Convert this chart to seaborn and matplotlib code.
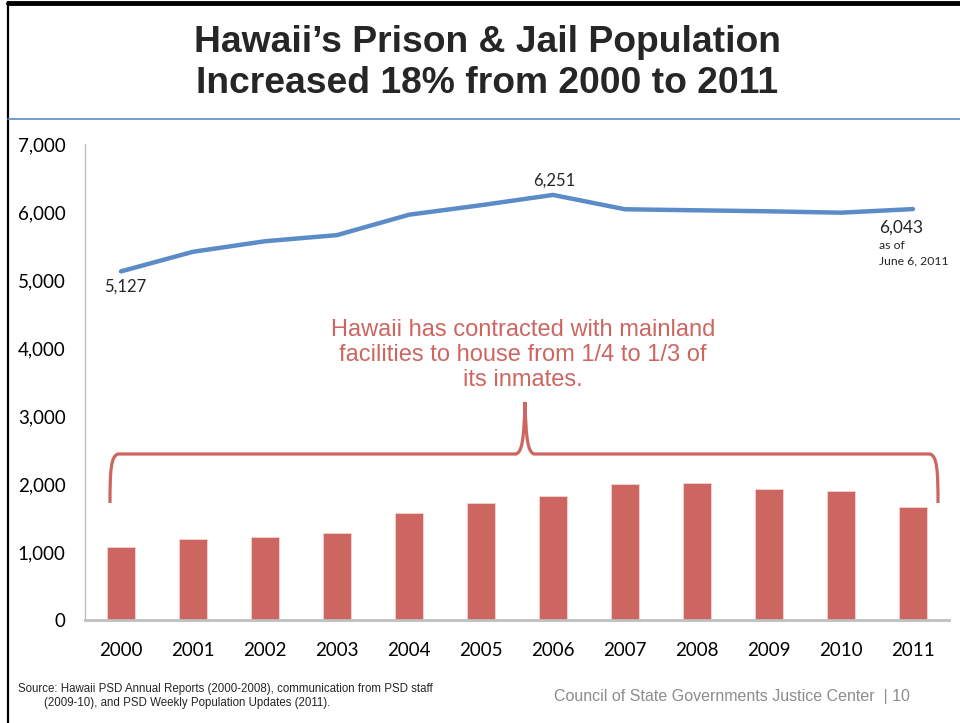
import matplotlib
matplotlib.use('Agg')
import matplotlib.pyplot as plt
from matplotlib.path import Path
from matplotlib.patches import PathPatch
import matplotlib.font_manager as fm
import seaborn as sns
import pandas as pd

# Datos
anios = ['2000', '2001', '2002', '2003', '2004', '2005',
         '2006', '2007', '2008', '2009', '2010', '2011']
poblacion_total = [5127, 5415, 5570, 5660, 5960, 6100,
                   6251, 6040, 6025, 6010, 5990, 6043]
fuera_del_estado = [1070, 1190, 1225, 1275, 1570, 1715,
                    1825, 1995, 2010, 1920, 1890, 1660]
yticks = [0, 1000, 2000, 3000, 4000, 5000, 6000, 7000]

titulo = 'Hawaii\u2019s Prison & Jail Population\nIncreased 18% from 2000 to 2011'
nota = 'Hawaii has contracted with mainland\nfacilities to house from 1/4 to 1/3 of\nits inmates.'
fuente = ('Source: Hawaii PSD Annual Reports (2000-2008), communication from PSD staff\n'
          '        (2009-10), and PSD Weekly Population Updates (2011).')
pie = 'Council of State Governments Justice Center  | 10'

sns.set_style('white')
instaladas = {f.name for f in fm.fontManager.ttflist}
narrow = 'Liberation Sans Narrow' if 'Liberation Sans Narrow' in instaladas else 'Liberation Sans'
plt.rcParams['font.family'] = ['Lato', 'DejaVu Sans']

db = pd.DataFrame({'Año': anios, 'Total': poblacion_total, 'Fuera': fuera_del_estado})

ROJO = '#CD6661'
AZUL = '#5B8CC8'

fig = plt.figure(figsize=(9.6, 7.23), dpi=100)
ax = fig.add_axes([85 / 960, 103 / 723, 864 / 960, 476 / 723])

sns.barplot(data=db, x='Año', y='Fuera', color=ROJO, width=0.4, saturation=1,
            edgecolor='#F2D4D2', linewidth=0.6, ax=ax)
sns.lineplot(data=db, x='Año', y='Total', color=AZUL, linewidth=3.2, ax=ax)

ax.set_xlim(-0.5, len(anios) - 0.5)
ax.set_ylim(0, 7000)
ax.set_yticks(yticks)
ax.set_yticklabels([f'{v:,}' for v in yticks])
ax.set_xlabel('')
ax.set_ylabel('')
ax.tick_params(axis='both', length=0, labelsize=13.5, colors='black')
ax.tick_params(axis='y', pad=14)
ax.tick_params(axis='x', pad=16)
for s in ['top', 'right']:
    ax.spines[s].set_visible(False)
ax.spines['left'].set_color('#BFBFBF')
ax.spines['left'].set_linewidth(1)
ax.spines['bottom'].set_color('#BFBFBF')
ax.spines['bottom'].set_linewidth(2)

# Etiquetas de datos
ax.annotate(f'{poblacion_total[0]:,}', xy=(0, poblacion_total[0]), xytext=(4, -15),
            textcoords='offset pixels', ha='center', va='center', fontsize=12)
i_max = poblacion_total.index(max(poblacion_total))
ax.annotate(f'{poblacion_total[i_max]:,}', xy=(i_max, poblacion_total[i_max]), xytext=(1, 14),
            textcoords='offset pixels', ha='center', va='center', fontsize=12)
n = len(anios) - 1
ax.annotate(f'{poblacion_total[n]:,}', xy=(n, poblacion_total[n]), xytext=(-34, -19),
            textcoords='offset pixels', ha='left', va='center', fontsize=12.5)
ax.annotate('as of', xy=(n, poblacion_total[n]), xytext=(-34, -36),
            textcoords='offset pixels', ha='left', va='center', fontsize=8.8)
ax.annotate('June 6, 2011', xy=(n, poblacion_total[n]), xytext=(-34, -52),
            textcoords='offset pixels', ha='left', va='center', fontsize=8.8)

# Llave roja sobre las barras (coordenadas en pixeles de la figura)
def px(x, y):
    return (x / 960, 1 - y / 723)

verts = [px(110, 503), px(110, 470), px(111, 456), px(118, 454),
         px(516, 454),
         px(522, 452), px(524, 440), px(525, 402),
         px(526, 440), px(528, 452), px(534, 454),
         px(930, 454),
         px(937, 456), px(938, 470), px(938, 503)]
codes = [Path.MOVETO, Path.CURVE4, Path.CURVE4, Path.CURVE4,
         Path.LINETO,
         Path.CURVE4, Path.CURVE4, Path.CURVE4,
         Path.CURVE4, Path.CURVE4, Path.CURVE4,
         Path.LINETO,
         Path.CURVE4, Path.CURVE4, Path.CURVE4]
fig.add_artist(PathPatch(Path(verts, codes), facecolor='none', edgecolor=ROJO,
                         linewidth=2.3, transform=fig.transFigure))

fig.text(523 / 960, 1 - 355 / 723, nota, ha='center', va='center', color=ROJO,
         fontsize=17, family=['Liberation Sans', 'DejaVu Sans'], linespacing=1.2)

# Titulo y marco de la diapositiva
fig.text(487 / 960, 1 - 63 / 723, titulo, ha='center', va='center', fontsize=26.8,
         fontweight='bold', family=[narrow, 'DejaVu Sans'], linespacing=1.22)
fig.add_artist(plt.Line2D([8 / 960, 1], [1 - 2.5 / 723] * 2, color='black', linewidth=3.5,
                          transform=fig.transFigure))
fig.add_artist(plt.Line2D([8 / 960] * 2, [0, 1 - 2 / 723], color='black', linewidth=1.6,
                          transform=fig.transFigure))
fig.add_artist(plt.Line2D([8 / 960, 1], [1 - 119 / 723] * 2, color='#5B8CC8', linewidth=1.2,
                          transform=fig.transFigure))

fig.text(18 / 960, 1 - 696 / 723, fuente, ha='left', va='center', fontsize=8.3,
         family=[narrow, 'DejaVu Sans'], linespacing=1.25)
fig.text(910 / 960, 1 - 696 / 723, pie, ha='right', va='center', fontsize=11.5,
         color='#8C8C8C', family=['Liberation Sans', 'DejaVu Sans'])

fig.savefig('out.png', dpi=100)
